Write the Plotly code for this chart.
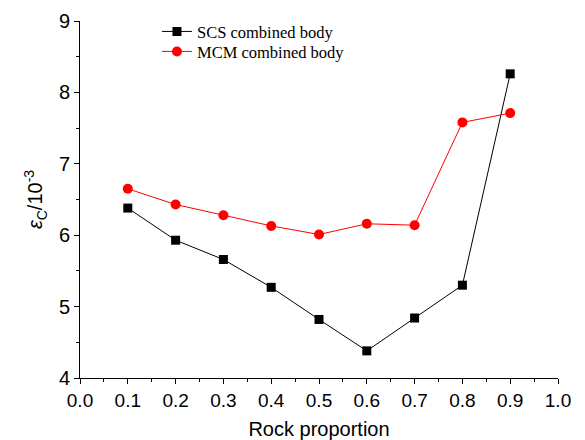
import plotly.graph_objects as go

rock = [0.1, 0.2, 0.3, 0.4, 0.5, 0.6, 0.7, 0.8, 0.9]
scs = [6.38, 5.93, 5.66, 5.27, 4.82, 4.38, 4.84, 5.30, 8.26]
mcm = [6.65, 6.43, 6.28, 6.13, 6.01, 6.16, 6.14, 7.58, 7.71]
x_ticks = [0.0, 0.1, 0.2, 0.3, 0.4, 0.5, 0.6, 0.7, 0.8, 0.9, 1.0]
y_ticks = [4, 5, 6, 7, 8, 9]

fig = go.Figure()
fig.add_trace(go.Scatter(x=rock, y=scs, mode="lines+markers", name="SCS combined body",
                         line=dict(color="black", width=1), legend="legend", showlegend=True,
                         marker=dict(symbol="square", size=9, color="black")))
fig.add_trace(go.Scatter(x=rock, y=mcm, mode="lines+markers", name="MCM combined body",
                         line=dict(color="red", width=1), legend="legend2", showlegend=True,
                         marker=dict(symbol="circle", size=10, color="red")))

axis_common = dict(showline=True, linecolor="black", linewidth=1, ticks="outside",
                   tickcolor="black", ticklen=5, showgrid=False, zeroline=False,
                   automargin=False)
fig.update_xaxes(range=[0, 1], tickvals=x_ticks, ticktext=[f"{v:.1f}" for v in x_ticks],
                 tickfont=dict(family="Liberation Sans, Arial", size=19, color="black"),
                 minor=dict(tickvals=[0.05 + 0.1 * i for i in range(10)], ticklen=3,
                            ticks="outside", tickcolor="black"),
                 title=dict(text="Rock proportion", font=dict(family="Liberation Sans, Arial", size=20, color="black"),
                            standoff=16),
                 **axis_common)
fig.update_yaxes(range=[4, 9], tickvals=y_ticks,
                 tickfont=dict(family="Liberation Sans, Arial", size=20, color="black"),
                 minor=dict(tickvals=[4.5, 5.5, 6.5, 7.5, 8.5], ticklen=3,
                            ticks="outside", tickcolor="black"),
                 title=dict(text="<i>ε</i><sub>C</sub>/10<sup>-3</sup>",
                            font=dict(family="Liberation Sans, Arial", size=20, color="black"),
                            standoff=10),
                 **axis_common)
leg_font = dict(family="Liberation Serif, Times New Roman", size=16.5, color="black")
fig.update_layout(
    width=585, height=440, plot_bgcolor="white", paper_bgcolor="white",
    showlegend=True,
    margin=dict(l=80, r=27, t=21, b=62),
    legend=dict(x=0.161, y=0.970, xanchor="left", yanchor="middle", bgcolor="rgba(0,0,0,0)",
                font=leg_font, itemwidth=30, visible=True),
    legend2=dict(x=0.161, y=0.914, xanchor="left", yanchor="middle", bgcolor="rgba(0,0,0,0)",
                 font=leg_font, itemwidth=30, visible=True),
)
fig.write_html("out.html")
